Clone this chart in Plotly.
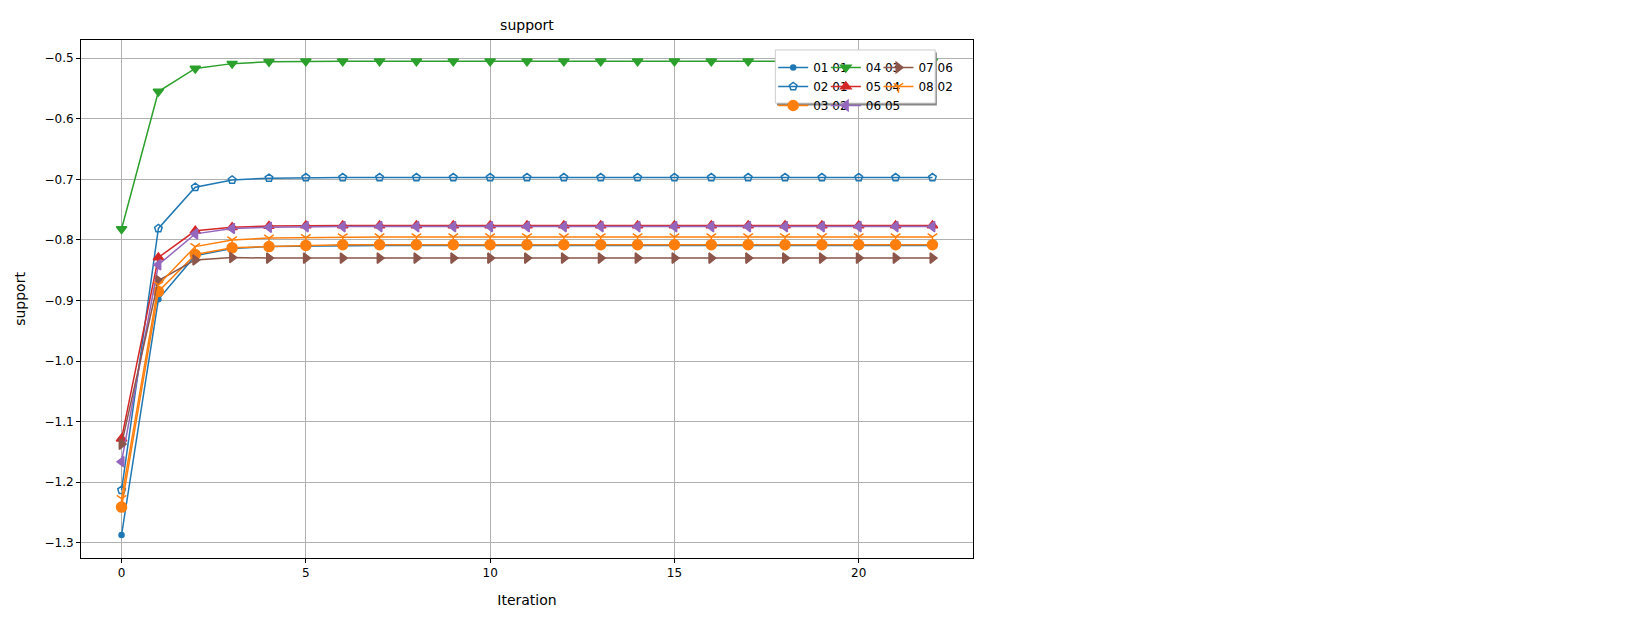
import plotly.graph_objects as go

iterations = list(range(23))
labels = ["01 01", "02 01", "03 02", "04 03", "05 04", "06 05", "07 06", "08 02"]

s01_01 = [-1.287, -0.898, -0.826, -0.814, -0.811, -0.810, -0.809, -0.809, -0.809, -0.809, -0.809, -0.809,
          -0.809, -0.809, -0.809, -0.809, -0.809, -0.809, -0.809, -0.809, -0.809, -0.809, -0.809]
s02_01 = [-1.213, -0.781, -0.713, -0.701, -0.698, -0.697, -0.697, -0.697, -0.697, -0.697, -0.697, -0.697,
          -0.697, -0.697, -0.697, -0.697, -0.697, -0.697, -0.697, -0.697, -0.697, -0.697, -0.697]
s03_02 = [-1.241, -0.885, -0.824, -0.813, -0.811, -0.809, -0.808, -0.808, -0.808, -0.808, -0.808, -0.808,
          -0.808, -0.808, -0.808, -0.808, -0.808, -0.808, -0.808, -0.808, -0.808, -0.808, -0.808]
s04_03 = [-0.782, -0.555, -0.517, -0.509, -0.506, -0.505, -0.505, -0.505, -0.505, -0.505, -0.505, -0.505,
          -0.505, -0.505, -0.505, -0.505, -0.505, -0.505, -0.505, -0.505, -0.505, -0.505, -0.505]
s05_04 = [-1.128, -0.829, -0.785, -0.779, -0.777, -0.776, -0.776, -0.776, -0.776, -0.776, -0.776, -0.776,
          -0.776, -0.776, -0.776, -0.776, -0.776, -0.776, -0.776, -0.776, -0.776, -0.776, -0.776]
s06_05 = [-1.166, -0.841, -0.790, -0.781, -0.779, -0.778, -0.778, -0.778, -0.778, -0.778, -0.778, -0.778,
          -0.778, -0.778, -0.778, -0.778, -0.778, -0.778, -0.778, -0.778, -0.778, -0.778, -0.778]
s07_06 = [-1.137, -0.867, -0.833, -0.829, -0.830, -0.830, -0.830, -0.830, -0.830, -0.830, -0.830, -0.830,
          -0.830, -0.830, -0.830, -0.830, -0.830, -0.830, -0.830, -0.830, -0.830, -0.830, -0.830]
s08_02 = [-1.227, -0.874, -0.811, -0.800, -0.797, -0.796, -0.795, -0.795, -0.795, -0.795, -0.795, -0.795,
          -0.795, -0.795, -0.795, -0.795, -0.795, -0.795, -0.795, -0.795, -0.795, -0.795, -0.795]

series = [s01_01, s02_01, s03_02, s04_03, s05_04, s06_05, s07_06, s08_02]
colors = ["#1f77b4", "#1f77b4", "#ff7f0e", "#2ca02c", "#d62728", "#9467bd", "#8c564b", "#ff7f0e"]
symbols = ["circle", "pentagon-open", "circle", "triangle-down", "triangle-up",
           "triangle-left", "triangle-right", "y-down-open"]
sizes = [5, 8, 10, 9, 9, 9, 9, 8]
# legend column for each series (matplotlib fills columns top to bottom)
legend_ids = ["legend", "legend", "legend", "legend2", "legend2", "legend2", "legend3", "legend3"]

fig = go.Figure()
for name, vals, c, sym, sz, lg in zip(labels, series, colors, symbols, sizes, legend_ids):
    fig.add_trace(go.Scatter(
        x=iterations, y=vals, name=name, mode="lines+markers", legend=lg,
        line=dict(color=c, width=1.5),
        marker=dict(symbol=sym, size=sz, color=c, line=dict(color=c, width=1.5)),
    ))

axis_style = dict(showgrid=True, gridcolor="#b0b0b0", gridwidth=1, zeroline=False,
                  showline=True, linecolor="black", mirror=True, ticks="outside",
                  tickcolor="black", ticklen=4)

leg_common = dict(yanchor="top", xanchor="left", y=0.975, bgcolor="rgba(0,0,0,0)",
                  borderwidth=0, font=dict(size=12), tracegroupgap=0, itemwidth=30)

fig.update_layout(
    width=1629, height=624,
    margin=dict(l=73, r=664, t=32, b=74, autoexpand=False),
    paper_bgcolor="white", plot_bgcolor="white",
    font=dict(family="DejaVu Sans", size=12, color="black"),
    title=dict(text="support", x=(73 + 965) / 2 / 1629, xanchor="center",
               yref="container", y=0.972, yanchor="middle", font=dict(size=14)),
    legend=dict(x=0.776, **leg_common),
    legend2=dict(x=0.835, **leg_common),
    legend3=dict(x=0.894, **leg_common),
    showlegend=True,
    shapes=[
        dict(type="rect", xref="paper", yref="paper", x0=1271 / 1629, x1=1563 / 1629,
             y0=1 - 79 / 624, y1=1 - 15 / 624, fillcolor="#888888", line=dict(width=0), layer="above"),
        dict(type="rect", xref="paper", yref="paper", x0=1268 / 1629, x1=1560 / 1629,
             y0=1 - 76 / 624, y1=1 - 12 / 624, fillcolor="white",
             line=dict(color="#cccccc", width=1), layer="above"),
    ],
)
fig.update_xaxes(title_text="Iteration", range=[-1.1, 23.1], tickvals=[0, 5, 10, 15, 20], **axis_style)
fig.update_yaxes(title_text="support", range=[-1.325, -0.47],
                 tickvals=[-1.3, -1.2, -1.1, -1.0, -0.9, -0.8, -0.7, -0.6, -0.5],
                 ticktext=["−1.3", "−1.2", "−1.1", "−1.0", "−0.9", "−0.8", "−0.7", "−0.6", "−0.5"],
                 **axis_style)

fig.write_html("out.html")
